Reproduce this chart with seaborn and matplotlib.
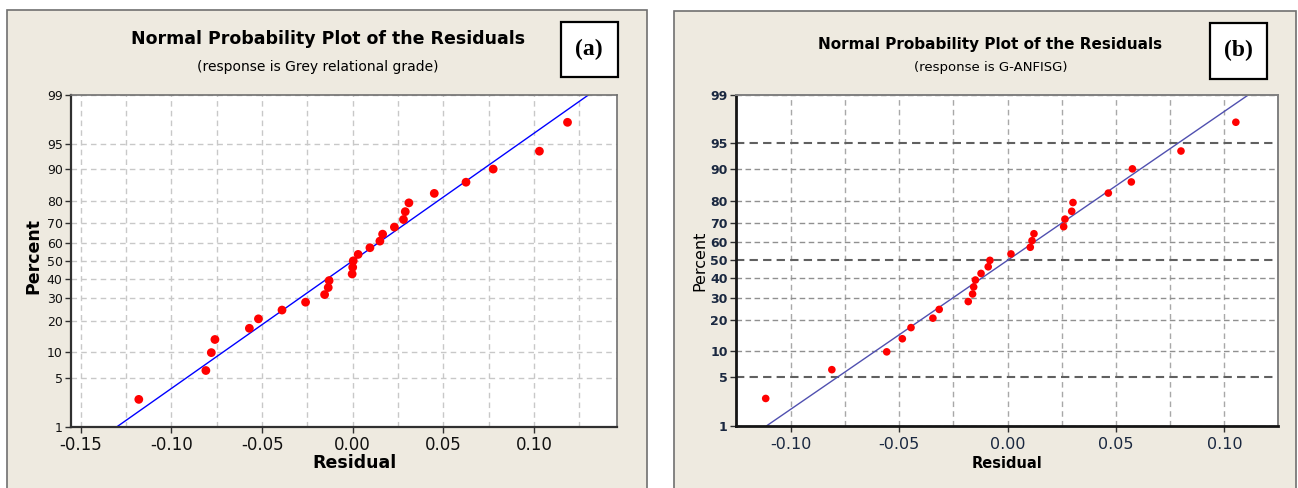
import matplotlib
matplotlib.use('Agg')
import matplotlib.pyplot as plt
from matplotlib.patches import Rectangle
import numpy as np
import pandas as pd
import seaborn as sns
from statistics import NormalDist

# Data (27 residuals each)
percent = [2.6, 6.2, 9.9, 13.5, 17.2, 20.8, 24.5, 28.1, 31.8, 35.4, 39.1, 42.7, 46.4, 50.0,
           53.6, 57.3, 60.9, 64.6, 68.2, 71.9, 75.5, 79.2, 82.8, 86.5, 90.1, 93.8, 97.4]
resid_a = [-0.118, -0.081, -0.078, -0.076, -0.057, -0.052, -0.039, -0.026, -0.0155, -0.0135,
           -0.013, -0.0003, 0.0, 0.0003, 0.003, 0.0095, 0.015, 0.0165, 0.023, 0.028, 0.029,
           0.031, 0.045, 0.0625, 0.0775, 0.103, 0.1185]
resid_b = [-0.1115, -0.081, -0.0557, -0.0485, -0.0445, -0.0344, -0.0315, -0.0181, -0.0161,
           -0.0156, -0.0148, -0.0122, -0.0089, -0.0081, 0.0016, 0.0105, 0.0113, 0.0122,
           0.0259, 0.0265, 0.0296, 0.0302, 0.0465, 0.0571, 0.0576, 0.0800, 0.1053]

# fitted normal line: residual at 1% and 99%
fit_pct = [1, 99]
fit_a = [-0.130, 0.130]
fit_b = [-0.111, 0.111]

y_ticks = [1, 5, 10, 20, 30, 40, 50, 60, 70, 80, 90, 95, 99]
xticks_a = [-0.15, -0.10, -0.05, 0.00, 0.05, 0.10]
xticks_b = [-0.10, -0.05, 0.00, 0.05, 0.10]

subtitle_a = '(response is Grey relational grade)'
subtitle_b = '(response is G-ANFISG)'
title = 'Normal Probability Plot of the Residuals'

_nd = NormalDist()
_fwd = np.vectorize(lambda v: _nd.inv_cdf(min(max(v, 1e-6), 100 - 1e-6) / 100.0), otypes=[float])
_inv = np.vectorize(lambda z: _nd.cdf(z) * 100.0, otypes=[float])

sns.set_style('white')
plt.rcParams['font.family'] = ['DejaVu Sans']
plt.rcParams['text.color'] = 'black'

W, H = 1298, 488
fig = plt.figure(figsize=(W / 100, H / 100), dpi=100)
fig.patch.set_facecolor('white')

BG = '#eeeae0'
# panel backgrounds
fig.add_artist(Rectangle((7 / W, -0.05), 640 / W, 1.05 - 10 / H, transform=fig.transFigure,
                         facecolor=BG, edgecolor='#707070', lw=1.2, zorder=0))
fig.add_artist(Rectangle((674 / W, -0.05), 622 / W, 1.05 - 11 / H, transform=fig.transFigure,
                         facecolor=BG, edgecolor='#707070', lw=1.2, zorder=0))


def px_rect(x0, x1, ytop, ybot):
    return [x0 / W, 1 - ybot / H, (x1 - x0) / W, (ybot - ytop) / H]


def setup(ax, resid, fit, xlim, xticks, line_color, pt_size, tick_color):
    df = pd.DataFrame({'Residual': resid, 'Percent': percent})
    ax.set_yscale('function', functions=(_fwd, _inv))
    ax.set_facecolor('white')
    ax.set_axisbelow(True)
    sns.lineplot(x=fit, y=fit_pct, color=line_color, lw=1.0, ax=ax, zorder=2)
    sns.scatterplot(data=df, x='Residual', y='Percent', color='#ff0000', s=pt_size,
                    edgecolor='none', ax=ax, zorder=3)
    ax.set_xlim(xlim)
    ax.set_ylim(1, 99)
    ax.set_yticks(y_ticks)
    ax.set_yticklabels([str(t) for t in y_ticks])
    ax.set_yticks([], minor=True)
    ax.set_xticks(xticks)
    ax.set_xticklabels(['%.2f' % t for t in xticks])
    minor = [t + 0.025 for t in xticks] + [xticks[0] - 0.025]
    ax.set_xticks([m for m in minor if xlim[0] < m < xlim[1]], minor=True)
    ax.tick_params(axis='both', which='major', direction='out', length=4, width=1,
                   color='#303030', bottom=True, left=True, labelcolor=tick_color)
    ax.tick_params(axis='x', which='minor', length=0)
    ax.set_xlabel('')
    ax.set_ylabel('')
    return ax


# ---------------- panel (a) ----------------
ax1 = fig.add_axes(px_rect(71, 617, 95, 426.7))
setup(ax1, resid_a, fit_a, (-0.1554, 0.1458), xticks_a, '#0000ff', 40, '#111111')
ax1.grid(True, which='both', axis='x', color='#c8c8c8', ls=(0, (4, 3)), lw=1)
ax1.grid(True, which='major', axis='y', color='#c8c8c8', ls=(0, (4, 3)), lw=1)
ax1.tick_params(axis='x', labelsize=12, pad=3)
ax1.tick_params(axis='y', labelsize=9, pad=2)
for side in ['left', 'bottom']:
    ax1.spines[side].set_color('#303030')
    ax1.spines[side].set_linewidth(1.6)
for side in ['top', 'right']:
    ax1.spines[side].set_color('#707070')
    ax1.spines[side].set_linewidth(1.2)

fig.text(328 / W, 1 - 39 / H, title, ha='center', va='center', fontsize=12.5, fontweight='bold')
fig.text(318 / W, 1 - 67 / H, subtitle_a, ha='center', va='center', fontsize=10)
fig.text(354 / W, 1 - 463 / H, 'Residual', ha='center', va='center', fontsize=12.5,
         fontweight='bold')
fig.text(33 / W, 1 - 256 / H, 'Percent', ha='center', va='center', fontsize=12.5,
         fontweight='bold', rotation=90)

# ---------------- panel (b) ----------------
ax2 = fig.add_axes(px_rect(736, 1277.7, 95, 425.7))
setup(ax2, resid_b, fit_b, (-0.1252, 0.1246), xticks_b, '#5050b0', 30, '#1a2840')
ax2.grid(True, which='both', axis='x', color='#a8a8a8', ls=(0, (4, 3)), lw=1)
ax2.grid(True, which='major', axis='y', color='#909090', ls=(0, (4, 2.5)), lw=1)
for t, gl in zip(ax2.get_yticks(), ax2.yaxis.get_gridlines()):
    if t in (5, 50, 95):
        gl.set_color('#606060')
        gl.set_linewidth(1.5)
ax2.tick_params(axis='x', labelsize=11.5, pad=4)
ax2.tick_params(axis='y', labelsize=9, pad=2)
for lab in ax2.get_yticklabels():
    lab.set_fontweight('bold')
for side in ['left', 'bottom']:
    ax2.spines[side].set_color('#151515')
    ax2.spines[side].set_linewidth(2.0)
for side in ['top', 'right']:
    ax2.spines[side].set_color('#808080')
    ax2.spines[side].set_linewidth(1.4)

fig.text(990 / W, 1 - 45 / H, title, ha='center', va='center', fontsize=11, fontweight='bold')
fig.text(991 / W, 1 - 68 / H, subtitle_b, ha='center', va='center', fontsize=9.5)
fig.text(1007 / W, 1 - 463 / H, 'Residual', ha='center', va='center', fontsize=10.5,
         fontweight='bold')
fig.text(700 / W, 1 - 261 / H, 'Percent', ha='center', va='center', fontsize=11.5,
         rotation=90)

# ---------------- (a) / (b) label boxes ----------------
for (x0, x1, y0, y1, lab) in [(560.5, 617.5, 21.7, 77.3, '(a)'),
                              (1210.3, 1267.4, 22.7, 78.7, '(b)')]:
    fig.add_artist(Rectangle((x0 / W, 1 - y1 / H), (x1 - x0) / W, (y1 - y0) / H,
                             transform=fig.transFigure, facecolor='white',
                             edgecolor='black', lw=1.6, zorder=2))
    fig.text((x0 + x1) / 2 / W, 1 - (y0 + y1) / 2 / H, lab, ha='center', va='center',
             fontsize=17, fontweight='bold', family='Liberation Serif', zorder=3)

fig.savefig('out.png', dpi=100)
